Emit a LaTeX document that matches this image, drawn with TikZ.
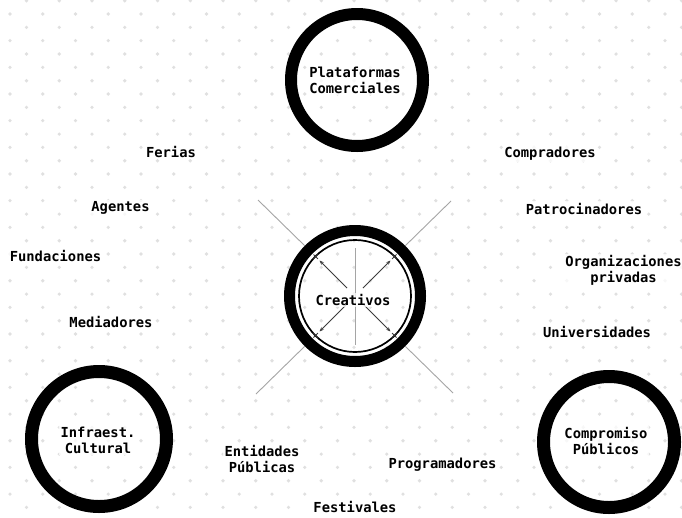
\documentclass[tikz,border=0pt]{standalone}
\usepackage{fontspec}
\newfontfamily\monofont{DejaVu Sans Mono}
\usetikzlibrary{calc,arrows.meta}
\definecolor{dotgray}{RGB}{224,224,224}
\definecolor{linegray}{RGB}{165,165,165}
\definecolor{arrowgray}{RGB}{60,60,60}
\begin{document}
\begin{tikzpicture}[x=1pt,y=-1pt,
  ring/.style={circle, draw=black, line width=#1, inner sep=0pt},
  lbl/.style={font=\monofont\bfseries\fontsize{13.8}{16}\selectfont, align=center,
    fill=white, fill opacity=0.75, text opacity=1, inner sep=1.5pt},
  spoke/.style={draw=linegray, line width=0.9pt},
  inarrow/.style={draw=arrowgray, line width=0.8pt, -{Stealth[length=4.5pt,width=3.5pt]}},
  tick/.style={draw=arrowgray, line width=0.8pt}]
\useasboundingbox (0,0) rectangle (682,517);
\fill[white] (0,0) rectangle (682,517);
% dot pattern
\foreach \i in {0,...,21}{
  \foreach \j in {0,...,19}{
    \fill[dotgray] (10+32.75*\i, 14+26.67*\j) circle (1.8);
    \fill[dotgray] (26.5+32.75*\i, 0.7+26.67*\j) circle (1.8);
  }
}
% outer circles
\node[ring=12pt, minimum size=132pt] (platring) at (357,80) {};
\node[ring=13pt, minimum size=135pt] (infraring) at (99,439) {};
\node[ring=13pt, minimum size=131pt] (compring) at (609,442) {};
% central element
\coordinate (c) at (355,296);
\node[ring=11pt, minimum size=131pt] (crearing) at (c) {};
\node[circle, draw=black, line width=1.7pt, minimum size=112pt, inner sep=0pt] (creainner) at (c) {};
% outer diagonal spokes
\coordinate (ul) at ($(c)+(-97,-96)$);
\coordinate (ur) at ($(c)+(96,-95)$);
\coordinate (ll) at ($(c)+(-99,98)$);
\coordinate (lr) at ($(c)+(98,97)$);
\draw[spoke] (crearing.135) -- (ul);
\draw[spoke] (crearing.45) -- (ur);
\draw[spoke] (crearing.225) -- (ll);
\draw[spoke] (crearing.315) -- (lr);
% vertical inner line
\coordinate (vt) at ($(c)+(0,-48)$);
\coordinate (vb) at ($(c)+(0,49)$);
\draw[spoke] (vt) -- (vb);
% inner arrows
\foreach \sx/\sy in {-1/-1, 1/-1, -1/1, 1/1}{
  \draw[inarrow] ($(c)+(8*\sx,8*\sy)$) -- ($(c)+(35.5*\sx,35.5*\sy)$);
  \draw[tick] ($(c)+(39.3*\sx,39.3*\sy)+(-2.2,-2.2)$) -- ($(c)+(39.3*\sx,39.3*\sy)+(2.2,2.2)$);
  \draw[tick] ($(c)+(39.3*\sx,39.3*\sy)+(-2.2,2.2)$) -- ($(c)+(39.3*\sx,39.3*\sy)+(2.2,-2.2)$);
}
% labels in circles
\node[lbl] (crea) at (353,300) {Creativos};
\node[lbl] (plat) at (355,80) {Plataformas\\Comerciales};
\node[lbl] (infra) at (98,440) {Infraest.\\Cultural};
\node[lbl] (comp) at (606,441) {Compromiso\\Públicos};
% free labels
\node[lbl] (ferias) at (171,152) {Ferias};
\node[lbl] (agentes) at (120.5,208) {Agentes};
\node[lbl] (fund) at (55.5,255.5) {Fundaciones};
\node[lbl] (medi) at (111,321.5) {Mediadores};
\node[lbl] (compr) at (550,154) {Compradores};
\node[lbl] (patro) at (584,208.5) {Patrocinadores};
\node[lbl] (orgpr) at (623.5,270.5) {Organizaciones\\privadas};
\node[lbl] (univ) at (597,332) {Universidades};
\node[lbl] (entid) at (262,459) {Entidades\\Públicas};
\node[lbl] (progr) at (442.5,464.5) {Programadores};
\node[lbl] (fest) at (355,507) {Festivales};
\end{tikzpicture}
\end{document}
